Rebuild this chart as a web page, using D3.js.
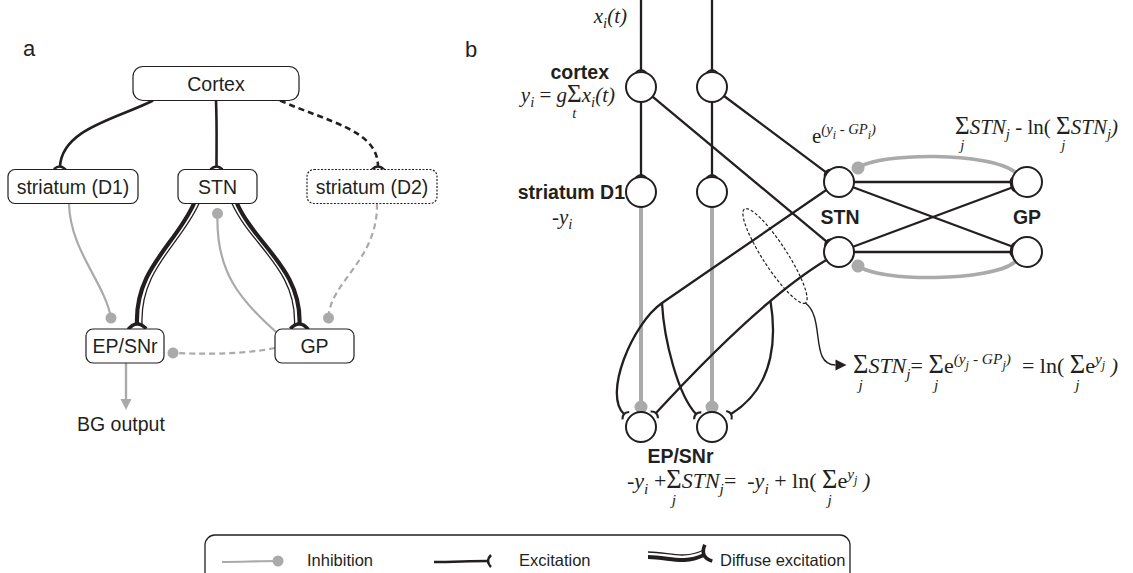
<!DOCTYPE html>
<html>
<head>
<meta charset="utf-8">
<title>Basal ganglia action selection model</title>
<style>
  body { margin: 0; background: #fff; }
  svg text { fill: #231f20; white-space: pre; }
  .sans { font-family: "Liberation Sans", Arial, Helvetica, sans-serif; }
  .bold { font-weight: bold; }
  .math text { font-family: "Liberation Serif", "Times New Roman", serif; }
  .box { fill: #fff; stroke: #231f20; stroke-width: 1.2; }
  .exc { fill: none; stroke: #231f20; stroke-width: 2.3; }
  .inh { fill: none; stroke: #aaa; stroke-width: 2.2; }
  .dash { stroke-dasharray: 6 4; }
  .neuron { fill: #fff; stroke: #231f20; stroke-width: 2; }
</style>
</head>
<body>
<div id="fig"></div>
<script src="https://cdn.jsdelivr.net/npm/d3@7"></script>
<script>
  // ---- panel a: nuclei and pathways ----
  var aNodes = ["Cortex", "striatum (D1)", "STN", "striatum (D2)", "EP/SNr", "GP"];
  var aRows = ["top", "mid", "mid", "mid", "bottom", "bottom"];
  var aLinks = [
    ["Cortex", "striatum (D1)", "exc"],
    ["Cortex", "STN", "exc"],
    ["Cortex", "striatum (D2)", "exc dash"],
    ["striatum (D1)", "EP/SNr", "inh"],
    ["GP", "STN", "inh"],
    ["striatum (D2)", "GP", "inh dash"],
    ["GP", "EP/SNr", "inh dash"],
    ["STN", "EP/SNr", "diffuse"],
    ["STN", "GP", "diffuse"]
  ];

  // ---- panel b: two channels ----
  var channels = [1, 2];
  var columnLayers = ["cortex", "striatum D1", "EP/SNr"];
  var loopNuclei = ["STN", "GP"];
  var legendItems = ["Inhibition", "Excitation", "Diffuse excitation"];

  // equations, as [text, kind, limit]
  var eqInput = [["x", "i"], ["i", "sub"], ["(t)", "i"]];
  var eqCortex = [["y", "i"], ["i", "sub"], [" = ", "r"], ["g", "i"], ["Σ", "sum", "t"], ["x", "i"], ["i", "sub"], ["(t)", "i"]];
  var eqStriatum = [["-y", "i"], ["i", "sub"]];
  var eqStn = [["e", "r"], ["(y", "sup"], ["i", "supsub"], [" - GP", "sup"], ["i", "supsub"], [")", "sup"]];
  var eqGp = [["Σ", "sum", "j"], ["STN", "i"], ["j", "sub"], [" - ln(", "r"], [" ", "r"], ["Σ", "sum", "j"], ["STN", "i"], ["j", "sub"], [")", "i"]];
  var eqSum = [["Σ", "sum", "j"], ["STN", "i"], ["j", "sub"], ["= ", "r"], ["Σ", "sum", "j"], ["e", "r"], ["(y", "sup"], ["j", "supsub"], [" - GP", "sup"], ["j", "supsub"], [")", "sup"], ["  = ln(", "r"], [" ", "r"], ["Σ", "sum", "j"], ["e", "r"], ["y", "sup"], ["j", "supsub"], [" )", "i"]];
  var eqEp = [["-y", "i"], ["i", "sub"], [" +", "r"], ["Σ", "sum", "j"], ["STN", "i"], ["j", "sub"], ["=  -", "r"], ["y", "i"], ["i", "sub"], [" + ln(", "r"], [" ", "r"], ["Σ", "sum", "j"], ["e", "r"], ["y", "sup"], ["j", "supsub"], [" )", "i"]];

  var width = 1133, height = 573;
  var ink = "#231f20", grey = "#aaa";

  var svg = d3.select("#fig").append("svg")
    .attr("width", width)
    .attr("height", height);

  // markers
  var defs = svg.append("defs");
  function marker(id) {
    return defs.append("marker").attr("id", id)
      .attr("viewBox", "-12 -12 24 24")
      .attr("markerWidth", 24).attr("markerHeight", 24)
      .attr("refX", 0).attr("refY", 0)
      .attr("orient", "auto")
      .attr("markerUnits", "userSpaceOnUse")
      .style("overflow", "visible");
  }
  marker("exc").append("path").attr("d", "M 2.5,-5 Q -2.5,0 2.5,5")
    .attr("fill", "none").attr("stroke", ink).attr("stroke-width", 2.1);
  marker("excA").append("path").attr("d", "M 3,-6 Q -3,0 3,6")
    .attr("fill", "none").attr("stroke", ink).attr("stroke-width", 2.5);
  marker("dif").append("path").attr("d", "M 5,-9 Q -5,0 5,9")
    .attr("fill", "none").attr("stroke", ink).attr("stroke-width", 3.6);
  marker("dot").append("circle").attr("r", 5.5).attr("fill", grey);
  marker("dotB").append("circle").attr("r", 6.5).attr("fill", grey);
  marker("tri").append("path").attr("d", "M 0,-5.5 L 11,0 L 0,5.5 Z").attr("fill", ink);
  marker("triG").append("path").attr("d", "M 0,-5.5 L 11,0 L 0,5.5 Z").attr("fill", grey);

  function bez(p) {
    var pa = d3.path();
    pa.moveTo(p[0][0], p[0][1]);
    pa.bezierCurveTo(p[1][0], p[1][1], p[2][0], p[2][1], p[3][0], p[3][1]);
    return pa.toString();
  }
  function shift(p, dx) { return p.map(function (q) { return [q[0] + dx, q[1]]; }); }

  // equation writer: each token as its own text, advancing by measured width
  function mathText(x, y, tokens, anchor, fs) {
    var g = svg.append("g").attr("class", "math");
    var sub = fs * 0.7, cx = 0;
    tokens.forEach(function (tk) {
      var kind = tk[1], size = fs, dy = 0, it = false;
      if (kind === "i") it = true;
      if (kind === "sum") { size = fs * 1.2; dy = fs * 0.02; }
      if (kind === "sub") { size = sub; dy = fs * 0.25; it = true; }
      if (kind === "sup") { size = sub; dy = -fs * 0.42; it = true; }
      if (kind === "supsub") { size = sub * 0.8; dy = -fs * 0.2; it = true; }
      var t = g.append("text").attr("x", cx).attr("y", dy)
        .style("font-size", size + "px")
        .style("font-style", it ? "italic" : "normal")
        .text(tk[0]);
      var w = t.node().getComputedTextLength();
      if (kind === "sum") {
        g.append("text").attr("x", cx + w / 2).attr("y", fs * 0.78)
          .attr("text-anchor", "middle")
          .style("font-size", sub + "px").style("font-style", "italic")
          .text(tk[2]);
      }
      cx += w;
    });
    var x0 = anchor === "end" ? x - cx : anchor === "middle" ? x - cx / 2 : x;
    g.attr("transform", "translate(" + x0 + "," + y + ")");
  }

  function label(x, y, txt, size, anchor, cls) {
    return svg.append("text").attr("class", "sans " + (cls || ""))
      .attr("x", x).attr("y", y).attr("text-anchor", anchor || "start")
      .style("font-size", size + "px").text(txt);
  }

  // ================= panel a =================
  label(23, 56, "a", 22);

  var ax = d3.scaleOrdinal().domain(aNodes).range([216, 73, 217.5, 372, 125, 314.5]);
  var ay = d3.scaleOrdinal().domain(["top", "mid", "bottom"]).range([83.5, 186.5, 346]);
  var boxW = d3.scaleOrdinal().domain(aNodes).range([166, 130, 79, 130, 78, 79]);
  var boxH = 34;

  var boxes = {};
  aNodes.forEach(function (n, i) {
    var x = ax(n), y = ay(aRows[i]), w = boxW(n);
    boxes[n] = { x: x, y: y, l: x - w / 2, r: x + w / 2, t: y - boxH / 2, b: y + boxH / 2 };
  });

  // route shapes: [start, c1, c2, end] from source and target boxes
  var routes = {
    "Cortex>striatum (D1)": function (s, t) {
      var p0 = [s.l + 20, s.b], p1 = [t.x - 13, t.t - 3];
      return [p0, [p0[0] - 35, p0[1] + 18], [p1[0] + 2, p1[1] - 38], p1];
    },
    "Cortex>STN": function (s, t) {
      var p0 = [s.x, s.b], p1 = [t.x - 1, t.t - 3];
      return [p0, [p0[0] + 1, p0[1] + 25], [p1[0], p1[1] - 25], p1];
    },
    "Cortex>striatum (D2)": function (s, t) {
      var p0 = [s.r - 19, s.b], p1 = [t.x + 6, t.t - 3];
      return [p0, [p0[0] + 50, p0[1] + 22], [p1[0], p1[1] - 36], p1];
    },
    "striatum (D1)>EP/SNr": function (s, t) {
      var p0 = [s.x - 4, s.b], p1 = [t.x - 14, t.t - 11];
      return [p0, [p0[0] + 1, p0[1] + 47], [p1[0] - 6, p1[1] - 35], p1];
    },
    "GP>STN": function (s, t) {
      var p0 = [s.l + 1, s.t + 3], p1 = [t.x, t.b + 10];
      return [p0, [p0[0] - 36, p0[1] - 32], [p1[0] - 2, p1[1] + 58], p1];
    },
    "striatum (D2)>GP": function (s, t) {
      var p0 = [s.x + 5, s.b], p1 = [t.x + 14, t.t - 11];
      return [p0, [p0[0] + 1, p0[1] + 57], [p1[0] + 1, p1[1] - 36], p1];
    },
    "GP>EP/SNr": function (s, t) {
      var p0 = [s.l, s.y + 2], p1 = [t.r + 9, t.y + 7];
      return [p0, [p0[0] - 35, p0[1] + 7], [p1[0] + 27, p1[1] + 1], p1];
    },
    "STN>EP/SNr": function (s, t) {
      var p0 = [s.l + 16, s.b], p1 = [t.x + 12, t.t - 5];
      return [p0, [p0[0] - 19, p0[1] + 42], [p1[0] - 2, p1[1] - 55], p1];
    },
    "STN>GP": function (s, t) {
      var p0 = [s.r - 20, s.b], p1 = [t.x - 15, t.t - 5];
      return [p0, [p0[0] + 19, p0[1] + 42], [p1[0] + 2, p1[1] - 55], p1];
    }
  };

  var gA = svg.append("g");
  aLinks.forEach(function (lk) {
    var pts = routes[lk[0] + ">" + lk[1]](boxes[lk[0]], boxes[lk[1]]);
    var kind = lk[2];
    if (kind === "diffuse") {
      var side = boxes[lk[1]].x < boxes[lk[0]].x ? 5 : -5;
      gA.append("path").attr("d", bez(pts)).attr("fill", "none")
        .attr("stroke", ink).attr("stroke-width", 4.2)
        .attr("marker-end", "url(#dif)");
      gA.append("path").attr("d", bez(shift(pts, side))).attr("fill", "none")
        .attr("stroke", ink).attr("stroke-width", 1.3);
    } else if (kind.indexOf("exc") === 0) {
      gA.append("path").attr("d", bez(pts))
        .attr("class", kind).style("stroke-width", 2.6)
        .attr("marker-end", "url(#excA)");
    } else {
      gA.append("path").attr("d", bez(pts))
        .attr("class", kind)
        .attr("marker-end", "url(#dot)");
    }
  });

  // output arrow
  var ep = boxes["EP/SNr"];
  gA.append("line").attr("x1", ep.x + 1).attr("y1", ep.b)
    .attr("x2", ep.x + 1).attr("y2", ep.b + 36)
    .attr("stroke", grey).attr("stroke-width", 2.4)
    .attr("marker-end", "url(#triG)");
  label(ep.x - 48, 431, "BG output", 19.5);

  aNodes.forEach(function (n) {
    var b = boxes[n];
    gA.append("rect").attr("class", "box")
      .attr("x", b.l).attr("y", b.t)
      .attr("width", b.r - b.l).attr("height", b.b - b.t)
      .attr("rx", n === "Cortex" ? 10 : 7)
      .style("stroke-dasharray", n === "striatum (D2)" ? "2 1.5" : null);
    label(b.x, b.y + 7, n, 19.5, "middle");
  });

  // ================= panel b =================
  label(465, 57, "b", 22);

  var R = 15;
  var bx = d3.scalePoint().domain(channels).range([641, 712]);
  var by = d3.scaleOrdinal().domain(columnLayers).range([87, 192, 427]);
  var lx = d3.scaleOrdinal().domain(loopNuclei).range([839, 1027]);
  var ly = d3.scalePoint().domain(channels).range([182, 252]);

  function edge(c, to, gap) {
    var dx = to[0] - c[0], dy = to[1] - c[1], d = Math.hypot(dx, dy);
    return [c[0] + dx / d * (R + gap), c[1] + dy / d * (R + gap)];
  }
  function seg(p, q) { return "M" + p[0] + "," + p[1] + "L" + q[0] + "," + q[1]; }

  var gB = svg.append("g");
  var gInh = gB.append("g"), gExc = gB.append("g"), gNeu = gB.append("g");

  // striatum -> EP/SNr (inhibition)
  channels.forEach(function (c) {
    gInh.append("path").attr("class", "inh").style("stroke-width", 4)
      .attr("d", seg([bx(c), by("striatum D1") + R], [bx(c), by("EP/SNr") - R - 5]))
      .attr("marker-end", "url(#dotB)");
  });
  // GP -> STN (inhibition loops)
  channels.forEach(function (c, i) {
    var s = i === 0 ? -1 : 1;
    var gx = lx("GP"), gy = ly(c), sx = lx("STN"), sy = ly(c);
    var pts = [[gx - 12, gy + s * 10], [gx - 37, gy + s * 30], [sx + 41, sy + s * 30], [sx + 19, sy + s * 14]];
    gInh.append("path").attr("class", "inh").style("stroke-width", 3.6)
      .attr("d", bez(pts)).attr("marker-end", "url(#dotB)");
  });

  channels.forEach(function (c) {
    // input and cortex -> striatum
    gExc.append("path").attr("class", "exc")
      .attr("d", seg([bx(c), 0], [bx(c), by("cortex") - R - 2]))
      .attr("marker-end", "url(#exc)");
    gExc.append("path").attr("class", "exc")
      .attr("d", seg([bx(c), by("cortex") + R], [bx(c), by("striatum D1") - R - 2]))
      .attr("marker-end", "url(#exc)");
    // cortex -> STN of the other channel
    var other = channels.filter(function (o) { return o !== c; })[0];
    var cc = [bx(c), by("cortex")], st = [lx("STN"), ly(other)];
    gExc.append("path").attr("class", "exc")
      .attr("d", seg(edge(cc, st, 0), edge(st, cc, 1.5)))
      .attr("marker-end", "url(#exc)");
    // STN -> every GP
    channels.forEach(function (g) {
      var a = [lx("STN"), ly(c)], b = [lx("GP"), ly(g)];
      gExc.append("path").attr("class", "exc")
        .attr("d", seg(edge(a, b, 0), edge(b, a, 1.5)))
        .attr("marker-end", "url(#exc)");
    });
  });

  // STN -> EP/SNr (diffuse, each STN reaches both output units)
  var epY = by("EP/SNr"), ep1 = bx(1), ep2 = bx(2);
  (function () {
    var sA = [lx("STN") - 0.85 * R, ly(1) + 0.53 * R];
    var brA = [ep1 + 21, epY - 124];
    var dA = d3.path();
    dA.moveTo(sA[0], sA[1]); dA.lineTo(brA[0], brA[1]);
    dA.bezierCurveTo(brA[0] - 30, brA[1] + 21, ep1 - 38, epY - 32, ep1 - 17, epY - 13);
    gExc.append("path").attr("class", "exc").attr("d", dA.toString()).attr("marker-end", "url(#exc)");
    gExc.append("path").attr("class", "exc")
      .attr("d", bez([brA, [brA[0] + 2, brA[1] + 37], [ep2 - 34, epY - 32], [ep2 - 16, epY - 13]]))
      .attr("marker-end", "url(#exc)");

    var sB = [lx("STN") - 0.85 * R, ly(2) + 0.53 * R];
    var qB = [ep2 + 48, epY - 127], eB = [ep1 + 15, epY - 14];
    var dB = d3.path();
    dB.moveTo(sB[0], sB[1]); dB.quadraticCurveTo(qB[0], qB[1], eB[0], eB[1]);
    gExc.append("path").attr("class", "exc").attr("d", dB.toString()).attr("marker-end", "url(#exc)");
    var t = 0.38, u = 1 - t;
    var brB = [u * u * sB[0] + 2 * u * t * qB[0] + t * t * eB[0], u * u * sB[1] + 2 * u * t * qB[1] + t * t * eB[1]];
    gExc.append("path").attr("class", "exc")
      .attr("d", bez([brB, [brB[0] + 5, brB[1] + 30], [ep2 + 66, epY - 42], [ep2 + 19, epY - 13]]))
      .attr("marker-end", "url(#exc)");

    // dashed ellipse around the STN projections, and the pointer to the sum
    var ec = [ep2 + 63, ly(2) + 4];
    gExc.append("ellipse").attr("cx", 0).attr("cy", 0).attr("rx", 56).attr("ry", 12)
      .attr("transform", "translate(" + ec + ") rotate(57)")
      .attr("fill", "none").attr("stroke", ink).attr("stroke-width", 1.2)
      .attr("stroke-dasharray", "3 2");
    var e0 = [ec[0] + 56 * Math.cos(57 * Math.PI / 180), ec[1] + 56 * Math.sin(57 * Math.PI / 180)];
    gExc.append("path").attr("fill", "none").attr("stroke", ink).attr("stroke-width", 1.4)
      .attr("d", bez([e0, [e0[0] + 20, e0[1] + 15], [e0[0] + 4, e0[1] + 62], [e0[0] + 30, e0[1] + 62]]))
      .attr("marker-end", "url(#tri)");
  })();

  // neurons
  channels.forEach(function (c) {
    columnLayers.forEach(function (l) {
      gNeu.append("circle").attr("class", "neuron").attr("cx", bx(c)).attr("cy", by(l)).attr("r", R);
    });
    loopNuclei.forEach(function (n) {
      gNeu.append("circle").attr("class", "neuron").attr("cx", lx(n)).attr("cy", ly(c)).attr("r", R);
    });
  });

  // panel b labels
  label(bx(1) - 32, by("cortex") - 8, "cortex", 19.5, "end", "bold");
  label(bx(1) - 16, by("striatum D1") + 7, "striatum D1", 19.5, "end", "bold");
  label((ep1 + ep2) / 2 + 4, epY + 36, "EP/SNr", 19.5, "middle", "bold");
  var midY = (ly(1) + ly(2)) / 2 + 7;
  label(lx("STN") + 1, midY, "STN", 19.5, "middle", "bold");
  label(lx("GP"), midY, "GP", 19.5, "middle", "bold");

  mathText(627, 23, eqInput, "end", 21);
  mathText(615, 102, eqCortex, "end", 21);
  mathText(552, 224, eqStriatum, "start", 21);
  mathText(812, 143, eqStn, "start", 21);
  mathText(955, 134, eqGp, "start", 21);
  mathText(853, 373, eqSum, "start", 22);
  mathText(627, 488, eqEp, "start", 22);

  // ================= legend =================
  var lg = svg.append("g");
  lg.append("rect").attr("x", 205).attr("y", 535).attr("width", 645).attr("height", 60)
    .attr("rx", 10).attr("fill", "none").attr("stroke", ink).attr("stroke-width", 1.3);
  var iconX = d3.scaleOrdinal().domain(legendItems).range([222, 434, 648]);
  var textX = d3.scaleOrdinal().domain(legendItems).range([307, 519, 720]);
  var ly0 = 561;
  legendItems.forEach(function (item, i) {
    var x = iconX(item);
    if (i === 0) {
      lg.append("path").attr("class", "inh")
        .attr("d", bez([[x, ly0 + 1], [x + 20, ly0 + 1], [x + 35, ly0], [x + 56, ly0]]))
        .attr("marker-end", "url(#dot)");
    } else if (i === 1) {
      lg.append("path").attr("class", "exc")
        .attr("d", bez([[x, ly0 + 1], [x + 20, ly0 + 1], [x + 35, ly0], [x + 54, ly0]]))
        .attr("marker-end", "url(#excA)");
    } else {
      var pts = [[x, ly0 - 4], [x + 22, ly0 - 4], [x + 34, ly0 + 4], [x + 56, ly0 - 6]];
      lg.append("path").attr("d", bez(pts)).attr("fill", "none")
        .attr("stroke", ink).attr("stroke-width", 4)
        .attr("marker-end", "url(#dif)");
      lg.append("path").attr("d", bez(pts.map(function (p) { return [p[0], p[1] - 5]; })))
        .attr("fill", "none").attr("stroke", ink).attr("stroke-width", 1.3);
    }
    label(textX(item), 566, item, 16.5);
  });
</script>
</body>
</html>
